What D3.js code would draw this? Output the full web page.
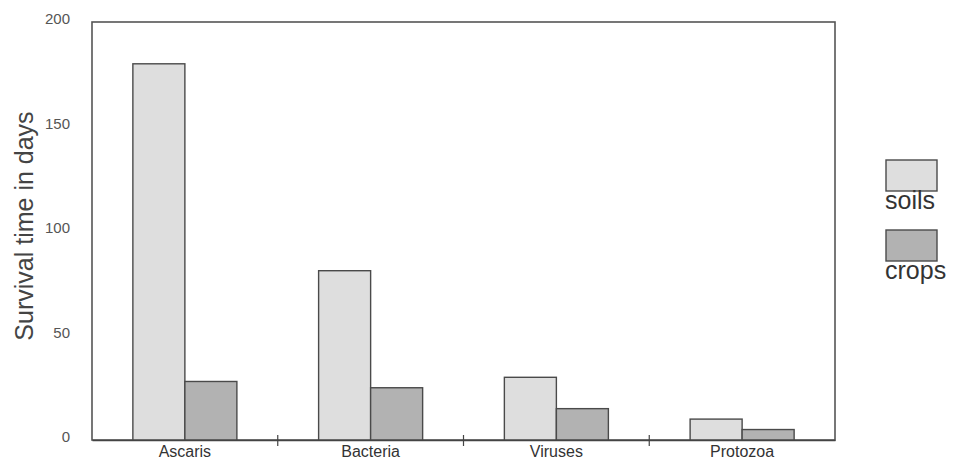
<!DOCTYPE html>
<html><head><meta charset="utf-8">
<script src="https://cdn.jsdelivr.net/npm/d3@7"></script>
<style>body{margin:0;background:#fff}svg{display:block}</style>
</head><body>
<svg id="c" width="953" height="464"></svg>
<script>
const categories = ["Ascaris", "Bacteria", "Viruses", "Protozoa"];
const soils = [180, 81, 30, 10];
const crops = [28, 25, 15, 5];
const seriesNames = ["soils", "crops"];
const yTicks = [0, 50, 100, 150, 200];
const colors = ["#dedede", "#b2b2b2"];

const svg = d3.select("#c");
const m = {l: 92, r: 835, t: 22, b: 440};
const x = d3.scaleBand().domain(categories).range([m.l, m.r]).paddingInner(0.44).paddingOuter(0.22);
const xs = d3.scaleBand().domain(seriesNames).range([0, x.bandwidth()]);
const y = d3.scaleLinear().domain([0, 200]).range([m.b, m.t]);
const font = "Liberation Sans, Arial, sans-serif";

const data = categories.map((c, i) => ({c, vals: [soils[i], crops[i]]}));

// frame
svg.append("rect").attr("x", m.l).attr("y", m.t).attr("width", m.r - m.l).attr("height", m.b - m.t)
  .attr("fill", "none").attr("stroke", "#555").attr("stroke-width", 1.6);

// bars
const g = svg.append("g");
data.forEach(d => {
  d.vals.forEach((v, j) => {
    g.append("rect")
      .attr("x", x(d.c) + xs(seriesNames[j]))
      .attr("y", y(v))
      .attr("width", xs.bandwidth())
      .attr("height", y(0) - y(v))
      .attr("fill", colors[j])
      .attr("stroke", "#4a4a4a").attr("stroke-width", 1.4);
  });
});

// x axis
const xAxis = d3.axisBottom(x).tickSize(0).tickPadding(6);
const xg = svg.append("g").attr("transform", `translate(0,${m.b})`).call(xAxis);
xg.select(".domain").attr("stroke", "#444").attr("stroke-width", 1.6);
xg.selectAll("text").attr("font-family", font).attr("font-size", 16).attr("fill", "#333");
// separators between categories
categories.slice(1).forEach(c => {
  const px = x(c) - (x.step() - x.bandwidth()) / 2;
  svg.append("line").attr("x1", px).attr("x2", px).attr("y1", m.b - 5).attr("y2", m.b + 6)
    .attr("stroke", "#444").attr("stroke-width", 1.2);
});

// y axis
const yAxis = d3.axisLeft(y).tickValues(yTicks).tickSize(0).tickPadding(22);
const yg = svg.append("g").attr("transform", `translate(${m.l},0)`).call(yAxis);
yg.select(".domain").remove();
yg.selectAll("text").attr("font-family", font).attr("font-size", 15).attr("fill", "#555")
  .attr("dy", "0.1em");

// y label
svg.append("text").attr("transform", "translate(33,226) rotate(-90)")
  .attr("text-anchor", "middle").attr("font-family", font)
  .attr("font-size", 25).attr("fill", "#444").text("Survival time in days");

// legend
seriesNames.forEach((s, i) => {
  const ly = 160 + i * 70;
  svg.append("rect").attr("x", 886).attr("y", ly).attr("width", 51).attr("height", 31)
    .attr("fill", colors[i]).attr("stroke", "#4a4a4a").attr("stroke-width", 1.4);
  svg.append("text").attr("x", 885).attr("y", ly + 49).attr("font-family", font)
    .attr("font-size", 25).attr("fill", "#333").text(s);
});
</script>
</body></html>
